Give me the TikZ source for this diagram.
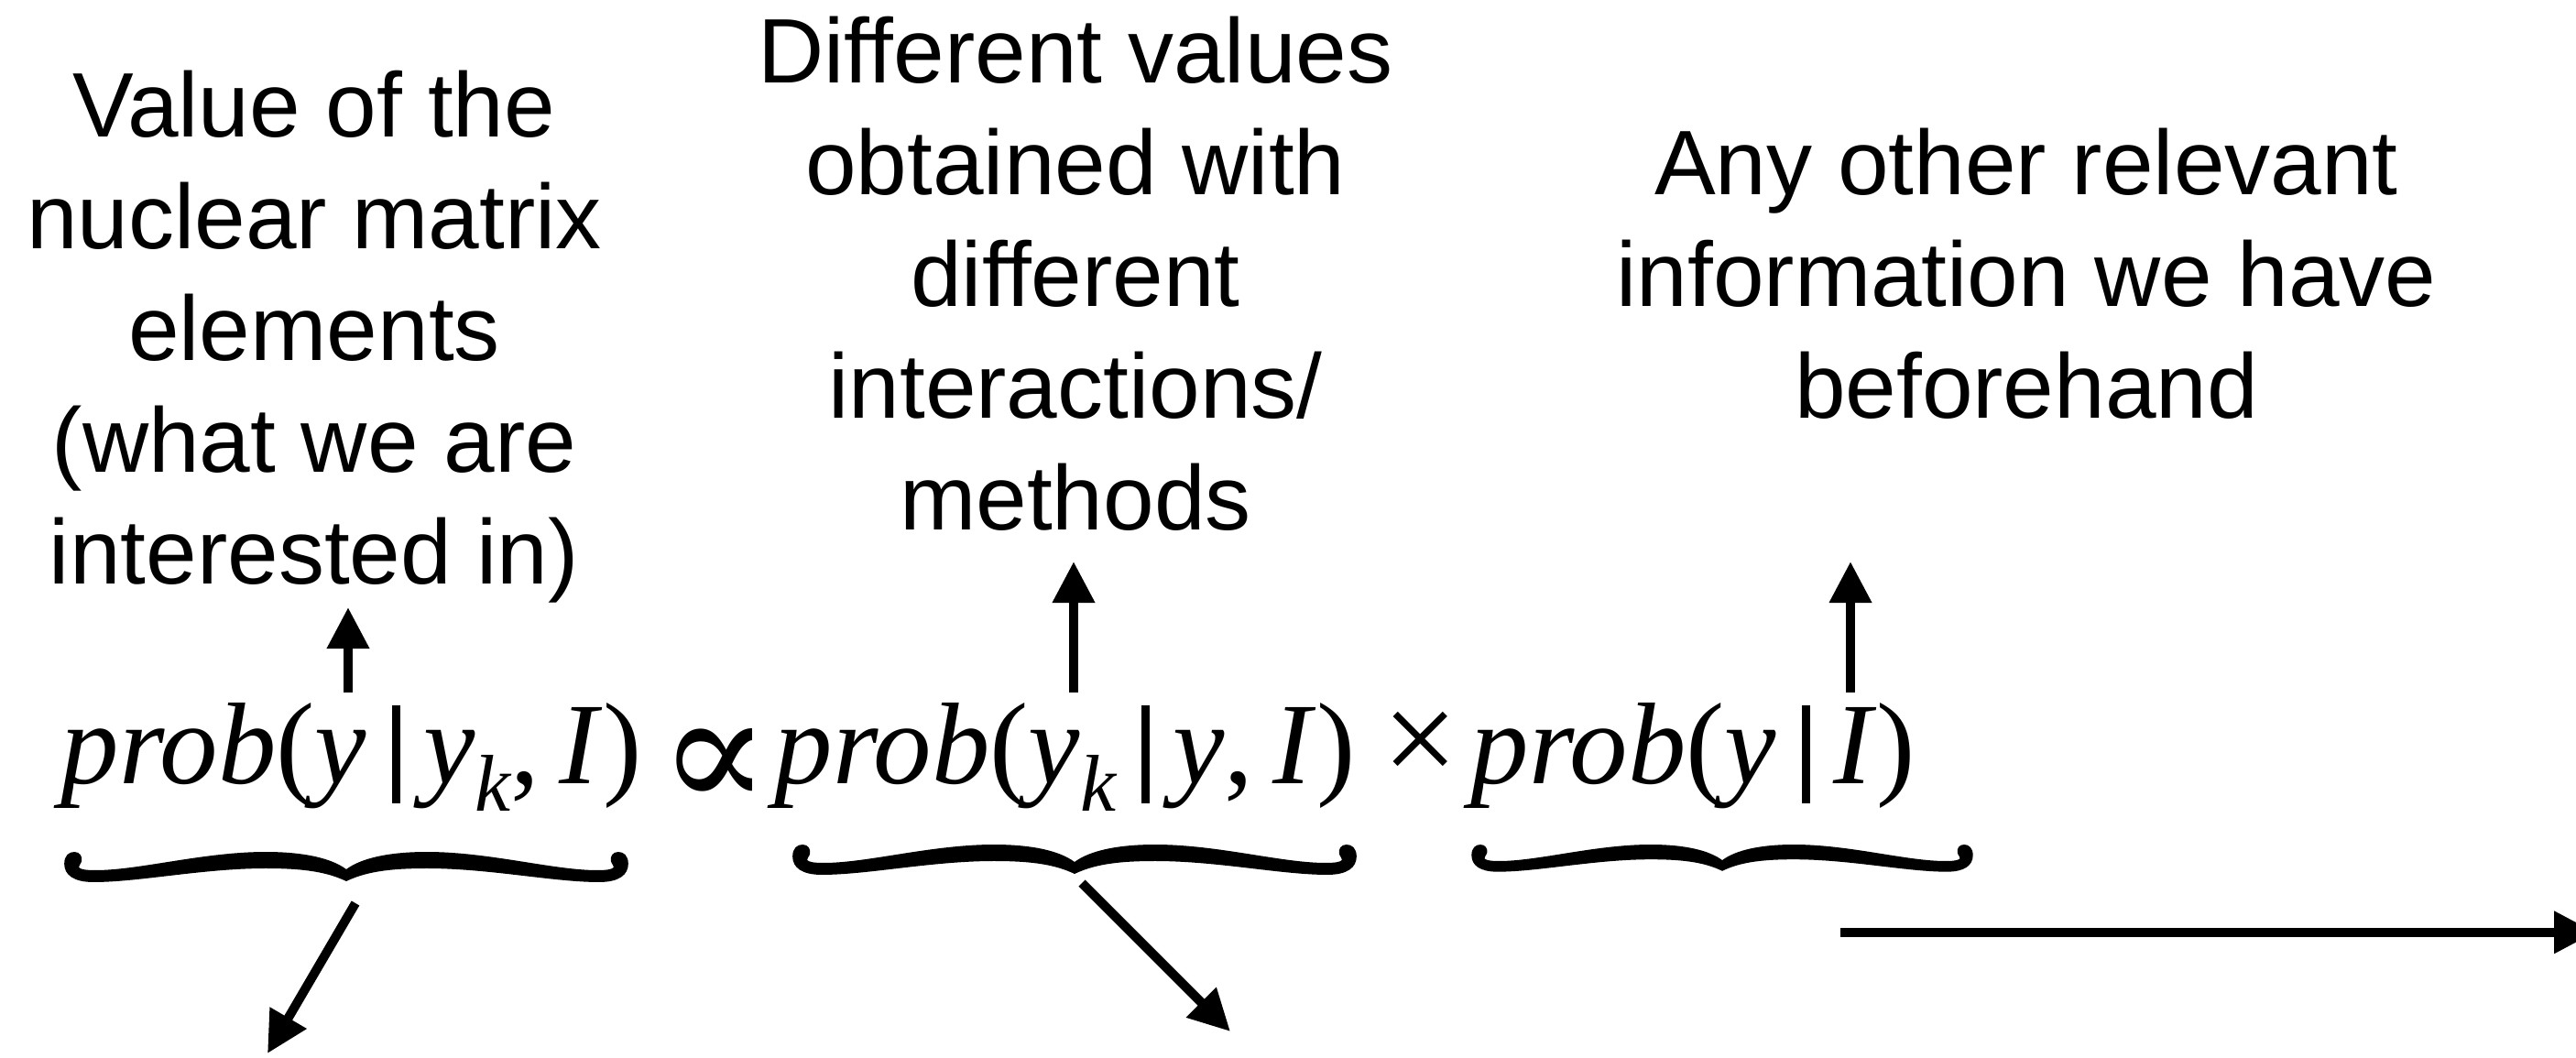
\documentclass[tikz,border=0pt]{standalone}
\usepackage{fontspec}
\setmainfont{Liberation Sans}
\newfontfamily\formulafont{Liberation Serif}
\newfontfamily\symbolfont{DejaVu Serif}
\usetikzlibrary{arrows.meta}
\newcommand{\subidx}[1]{\raisebox{-0.24em}{\fontsize{25}{25}\selectfont\itshape #1}}
\newcommand{\givenbar}{\hspace{0.22em}\rule[-0.22cm]{0.09cm}{1.07cm}\hspace{0.2em}}

\begin{document}
\begin{tikzpicture}
        \tikzset{note/.style={align=center,inner sep=0pt,
                font={\fontsize{28.45}{34.71}\selectfont}},
            formula/.style={inner sep=0pt,
                font={\formulafont\fontsize{36.1}{40}\selectfont}},
            arr/.style={line width=0.1cm,
                -{Triangle[length=0.45cm,width=0.44cm]}},
            pics/calbrace/.style={code={
                \foreach \s in {1,-1}
                    \fill[xscale=\s,x=0.01cm,y=-0.01cm] (0,32)
                        .. controls (-21,22) and (-46,18) .. (-88,18)
                        .. controls (-156,18) and (-226,33) .. (-276,33)
                        .. controls (-298,33) and (-308,25) .. (-308,13)
                        .. controls (-308,4) and (-303,0) .. (-297,0)
                        .. controls (-291,0) and (-288,5) .. (-289,10)
                        .. controls (-290,14) and (-293,15) .. (-292,17)
                        .. controls (-290,19) and (-285,20) .. (-274,20)
                        .. controls (-226,20) and (-156,0) .. (-88,0)
                        .. controls (-46,0) and (-16,7) .. (0,19) -- cycle;
                \coordinate (-tip) at (0,-0.32);
            }}}
        \clip (0,0) rectangle (28.12,11.54);

        \node[note,anchor=north] (postnote) at (3.43,10.78)
            {Value of the\\nuclear matrix\\elements\\(what we are\\interested in)};
        \node[note,anchor=north] (likenote) at (11.74,11.37)
            {Different values\\obtained with\\different\\interactions/\\methods};
        \node[note,anchor=north] (priornote) at (22.12,10.15)
            {Any other relevant\\information we have\\beforehand};

        \node[formula,anchor=base west] (post) at (0.66,2.99)
            {\textit{prob}(\textit{y}\givenbar\textit{y}\subidx{k},\,\textit{I})};
        \node[formula,anchor=base] (propto) at (7.80,2.99)
            {\raisebox{-0.28cm}{\symbolfont\fontsize{51}{51}\selectfont ∝}};
        \node[formula,anchor=base west] (like) at (8.45,2.99)
            {\textit{prob}(\textit{y}\subidx{k}\givenbar\textit{y},\,\textit{I})};
        \node[formula,anchor=base] (times) at (15.51,2.99) {\scalebox{1.15}{×}};
        \node[formula,anchor=base west] (prior) at (16.05,2.99)
            {\textit{prob}(\textit{y}\givenbar\textit{I})};

        \pic (bpost) at (3.78,2.24) {calbrace};
        \pic (blike) at (11.73,2.32) {calbrace};
        \pic[xscale=0.889,yscale=0.9] (bprior) at (18.80,2.32) {calbrace};

        \coordinate (tpost) at (3.80,4.91);
        \coordinate (tlike) at (11.72,5.41);
        \coordinate (tprior) at (20.20,5.41);
        \draw[arr] (tpost |- post.north) ++(0,0.1) -- (tpost);
        \draw[arr] (tlike |- like.north) ++(0,0.1) -- (tlike);
        \draw[arr] (tprior |- prior.north) ++(0,0.1) -- (tprior);

        \coordinate (dpost) at (2.92,0.04);
        \coordinate (dlike) at (13.43,0.28);
        \draw[arr] (bpost-tip) ++(0.10,-0.24) -- (dpost);
        \draw[arr] (blike-tip) ++(0.08,-0.10) -- (dlike);
        \draw[arr] (bprior-tip) ++(1.29,-0.67) -- ++(8.24,0);
\end{tikzpicture}
\end{document}
